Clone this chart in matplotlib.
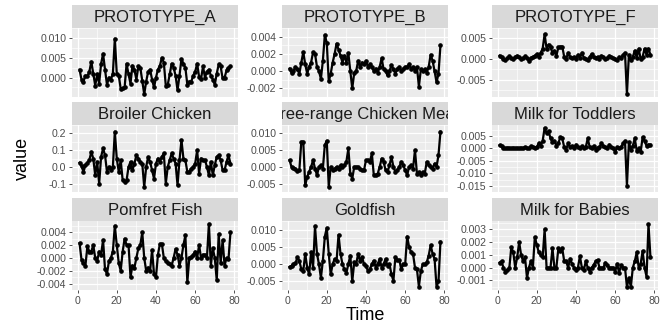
import numpy as np
import matplotlib
matplotlib.use("Agg")
import matplotlib.pyplot as plt

# ---------------- data ----------------
time = list(range(1, 79))

titles = ["PROTOTYPE_A", "PROTOTYPE_B", "PROTOTYPE_F",
          "Broiler Chicken", "Free-range Chicken Meat", "Milk for Toddlers",
          "Pomfret Fish", "Goldfish", "Milk for Babies"]

prototype_a = [2.0, -0.5, -1.0, 0.5, 0.3, 1.5, 4.0, 1.0, -2.0, 0.8, -1.5, 3.5, 6.0, 2.0, -1.8, 0.0,
               -0.5, 1.0, 9.8, 1.0, 0.5, -2.8, -2.6, -2.5, 3.5, 0.8, -1.5, 3.0, 2.0, -0.5, 2.8, 2.5,
               -0.8, -4.2, -1.0, 1.5, 2.0, -0.5, -2.5, 0.0, 2.0, 3.0, 5.0, 3.8, -2.0, -1.8, 0.8, 3.5,
               2.5, 0.5, -3.2, 0.5, 4.7, 3.5, 2.5, -1.8, -1.0, -1.0, 0.5, 1.5, 3.5, 0.2, -0.3, 2.8,
               0.0, 1.5, 2.0, 0.5, -0.5, -1.8, 1.0, 3.3, 2.8, -0.2, 0.0, 1.8, 2.5, 2.8]
prototype_b = [0.3, -0.2, 0.0, 0.5, 0.2, -0.3, 1.0, 2.2, 0.8, -0.3, 0.5, 1.0, 2.2, 2.0, 0.5, 0.0,
               -0.9, 1.2, 4.2, 3.3, -1.2, -0.3, 1.0, 2.0, 3.2, 2.5, 1.8, 1.0, 1.8, 1.0, 2.1, 0.0,
               -2.0, -0.2, 0.0, 1.2, 0.5, 1.0, 0.8, 1.2, 0.5, 0.8, 0.5, 0.0, 0.3, -0.2, 0.5, 1.5,
               0.2, 0.0, -0.5, 0.0, 0.7, 0.2, -0.3, 0.3, 0.5, 0.0, 0.3, 0.5, 0.5, 0.8, 0.3, 0.5,
               0.0, 0.5, -1.8, 0.2, 0.0, 0.2, -0.2, 0.5, 1.9, 1.2, 0.0, -1.3, -0.3, 3.0]
prototype_f = [0.8, 0.5, 0.0, -0.3, 0.2, 0.6, 0.3, 0.0, 0.5, 0.8, 0.4, 0.0, 0.3, 0.6, 0.2, -0.5,
               0.3, 0.5, 0.8, 1.2, 0.5, 1.5, 2.5, 6.0, 2.5, 3.5, 2.8, 1.5, 2.0, 0.8, 2.8, 3.0,
               3.0, 0.5, 0.0, 1.5, 0.5, 0.2, 0.5, 0.0, 1.0, 0.3, 1.5, 0.3, 0.0, -0.3, 0.5, 1.2,
               0.5, 0.2, 0.5, 0.0, 0.8, 0.5, 0.0, 0.3, 0.8, 0.5, 0.2, 0.0, -0.2, 0.5, 0.3, 1.0,
               1.5, -8.5, 1.0, -0.3, 0.5, 2.0, 0.3, 2.5, 0.0, 0.5, 2.5, 1.0, 2.5, 1.0]
broiler = [2.5, 0.5, -3.0, 1.0, 2.5, 4.0, 9.0, 5.0, -5.0, 3.0, -10.0, 6.0, 11.0, 7.0, -3.0, 0.0,
           -2.0, 0.0, 21.0, 5.0, -3.0, 4.0, -8.0, -9.0, -8.0, 0.0, 3.0, -2.0, 2.0, 7.0, 5.0, 3.0,
           2.0, -12.0, 0.0, 6.0, 3.0, -2.0, -7.0, 2.0, 5.0, 3.0, 6.0, 8.0, -10.0, 0.0, 4.0, 8.0,
           5.0, 2.0, -11.0, 4.0, 16.0, 5.0, 4.0, -3.0, -3.0, -1.0, 0.0, 2.0, 10.0, -4.0, 5.0, 4.0,
           4.0, 0.0, -5.0, 3.0, -5.0, 1.0, 6.0, 7.0, 4.0, -2.0, -2.0, 3.0, 7.0, 2.0]
free_range = [2.0, 0.0, -0.3, -0.5, -1.2, -1.0, 7.5, 7.5, -5.5, -3.0, -1.5, 0.0, 2.0, -0.5, -2.5, 0.0,
              0.5, -0.5, 6.5, 7.8, -6.0, 0.0, -1.0, -0.5, 0.0, -0.5, 0.5, 0.0, 0.5, 1.5, 5.5, -2.0,
              -3.5, 0.0, 0.0, 0.0, -0.5, -1.0, -1.0, 2.0, 2.0, 1.5, 4.0, -2.5, -2.5, -2.0, 0.0, 2.5,
              1.5, -1.0, -1.5, 0.5, 3.0, 0.0, -1.5, -1.0, 0.0, 1.5, 0.5, -1.0, -2.5, 0.0, 0.5, -0.5,
              5.0, -2.0, -1.5, -2.5, -1.5, -2.0, 1.5, 0.5, 0.0, -0.5, 1.0, 0.0, 3.5, 10.5]
toddlers = [1.2, 1.0, 0.2, 0.0, 0.3, 0.2, 0.0, 0.3, 0.0, 0.2, 0.0, 0.3, 0.0, 0.5, 0.2, 0.0,
            1.0, 0.5, 0.3, 0.5, 2.0, 1.0, 3.0, 8.2, 6.0, 7.0, 4.0, 2.5, 3.0, 1.0, 2.0, 4.5,
            4.0, 0.5, -0.5, 2.0, 0.5, 1.0, 0.0, 1.5, 0.5, 0.0, 1.0, 0.0, 0.5, 4.0, 0.5, 0.0,
            1.0, -0.5, 0.3, 0.5, 2.0, 1.0, 0.5, 0.0, 1.5, 0.5, 0.0, -1.5, 0.5, 0.0, 0.5, 2.0,
            3.0, -15.0, 2.5, -0.5, 1.0, 4.0, -1.0, 0.0, -1.5, 4.5, 3.0, 1.0, 1.5, 1.5]
pomfret = [2.3, -0.3, -0.8, -1.2, 1.8, 1.0, 1.0, 2.0, 0.0, -0.5, 1.0, 0.5, 2.8, -1.8, -2.5, -0.5,
           0.0, 1.0, 5.0, 2.0, -0.8, -2.0, 1.0, 3.0, 2.0, 2.0, -3.0, -1.2, -1.5, 0.0, 1.5, 2.0,
           4.0, 0.0, -2.0, -1.5, -2.0, 1.2, -2.5, -3.0, 0.5, 2.2, 2.2, 0.0, -0.5, -0.8, -1.0, -1.2,
           0.0, 1.4, 0.5, -1.2, 0.0, 2.0, 3.5, -3.8, 0.0, 0.2, 0.5, 1.0, 0.0, 2.0, 0.0, 0.5,
           0.5, 0.0, 5.3, -1.2, 1.5, 0.0, -3.5, 3.7, -0.8, 2.8, -1.2, 0.0, -0.2, 4.0]
goldfish = [-0.8, -0.5, 0.0, 0.2, 2.0, 1.0, -1.5, -2.0, 3.0, -1.0, -3.0, 3.5, -1.0, 11.0, 3.0, 0.0,
            -4.0, 1.0, 8.0, 10.5, 3.0, -3.0, 0.0, 1.5, 1.0, 8.5, 3.0, 0.0, -1.5, -2.5, 0.0, 2.5,
            -5.0, 0.5, 0.0, 3.0, 1.0, 2.0, 0.0, -0.5, -2.0, -1.5, 0.0, 1.0, -1.0, 0.0, 1.5, -1.0,
            0.0, 1.5, -0.5, 0.0, -3.0, -4.8, 2.0, 1.2, 1.2, -1.5, 0.0, 0.0, 8.0, 5.0, 3.5, 3.0,
            -1.0, -1.5, -6.5, -2.0, 0.0, 0.0, 0.5, 2.5, 5.5, 3.0, 1.5, -6.5, -5.0, 6.5]
babies = [0.4, 0.5, 0.0, -0.3, -0.2, 0.0, 1.6, 1.2, 0.0, 0.8, 2.0, 1.0, 0.5, 0.8, -0.8, 0.0,
          0.5, 0.0, 2.4, 1.8, 1.2, 1.0, 0.8, 3.0, 0.0, 0.0, 0.0, 1.5, 0.0, 0.0, 1.5, 1.3,
          1.5, 0.5, 0.5, 0.0, 0.7, 0.3, 0.0, -0.2, 0.0, 0.9, 0.0, -0.2, 0.5, 0.0, -0.3, 0.0,
          0.2, 0.5, 0.6, 0.0, 0.0, 0.0, 0.4, 0.2, 0.0, 0.0, 0.0, -0.3, 0.3, -0.4, 0.2, 0.0,
          0.0, -1.5, -0.8, -1.5, 0.0, 0.5, 1.2, 0.0, 0.3, 1.3, 0.0, -0.7, 3.4, 0.8]

series = [prototype_a, prototype_b, prototype_f, broiler, free_range, toddlers,
          pomfret, goldfish, babies]
scales = [1e-3, 1e-3, 1e-3, 1e-2, 1e-3, 1e-3, 1e-3, 1e-3, 1e-3]

y_ticks = [[0.0, 0.005, 0.010], [-0.002, 0.0, 0.002, 0.004], [-0.005, 0.0, 0.005],
           [-0.1, 0.0, 0.1, 0.2], [-0.005, 0.0, 0.005, 0.010],
           [-0.015, -0.010, -0.005, 0.0, 0.005],
           [-0.004, -0.002, 0.0, 0.002, 0.004], [-0.005, 0.0, 0.005, 0.010],
           [-0.001, 0.0, 0.001, 0.002, 0.003]]
y_fmt = ["{:.3f}", "{:.3f}", "{:.3f}", "{:.1f}", "{:.3f}", "{:.3f}", "{:.3f}", "{:.3f}", "{:.3f}"]
x_ticks = [0, 20, 40, 60, 80]

# ---------------- layout ----------------
W, H = 670, 324
fig = plt.figure(figsize=(W / 100, H / 100), dpi=100)
FONT = "Liberation Sans"

col_lr = [(72, 238), (282, 448), (492, 658)]
row_geo = [(5, 28, 97), (102, 125, 192), (198, 221, 290)]  # strip top, strip bottom/panel top, panel bottom

def fig_rect(l, t, r, b):
    return [l / W, 1 - b / H, (r - l) / W, (b - t) / H]

for i, (title, vals, sc) in enumerate(zip(titles, series, scales)):
    r, c = divmod(i, 3)
    l, rr = col_lr[c]
    st, pt, pb = row_geo[r]
    ax = fig.add_axes(fig_rect(l, pt, rr, pb))
    sax = fig.add_axes(fig_rect(l, st, rr, pt))

    y = np.array(vals) * sc
    ax.set_facecolor("#EBEBEB")
    for s in ax.spines.values():
        s.set_visible(False)
    ax.plot(time, y, color="black", lw=1.6, marker="o", ms=2.3, zorder=3)
    xr = max(time) - min(time)
    ax.set_xlim(min(time) - 0.05 * xr, max(time) + 0.05 * xr)
    yr = y.max() - y.min()
    ax.set_ylim(y.min() - 0.05 * yr, y.max() + 0.05 * yr)

    ax.set_xticks(x_ticks)
    ax.set_xticks([10, 30, 50, 70], minor=True)
    yt = y_ticks[i]
    ax.set_yticks(yt)
    step = yt[1] - yt[0]
    ax.set_yticks([v + step / 2 for v in [yt[0] - step] + yt], minor=True)
    ax.set_yticklabels([y_fmt[i].format(v + 0.0) for v in yt])
    ax.grid(True, which="major", color="white", lw=0.9)
    ax.grid(True, which="minor", color="white", lw=0.45)
    ax.set_axisbelow(True)
    ax.tick_params(which="major", length=2.5, width=0.6, color="#333333",
                   labelsize=7.6, labelcolor="#4D4D4D", pad=1.5)
    ax.tick_params(which="minor", length=0)
    for lab in ax.get_xticklabels() + ax.get_yticklabels():
        lab.set_family(FONT)
    if r < 2:
        ax.set_xticklabels([])
        ax.tick_params(axis="x", which="major", length=0)

    sax.set_facecolor("#D9D9D9")
    sax.set_xticks([])
    sax.set_yticks([])
    for s in sax.spines.values():
        s.set_visible(False)
    sax.set_xlim(0, 1)
    sax.set_ylim(0, 1)
    sax.text(0.5, 0.47, title, ha="center", va="center", fontsize=12,
             color="#1A1A1A", family=FONT, clip_on=True)

fig.text(365 / W, 1 - 315 / H, "Time", ha="center", va="center", fontsize=13,
         color="black", family=FONT)
fig.text(22 / W, 1 - 158 / H, "value", ha="center", va="center", fontsize=13,
         rotation=90, color="black", family=FONT)

fig.savefig("out.png", dpi=100, facecolor="white")
